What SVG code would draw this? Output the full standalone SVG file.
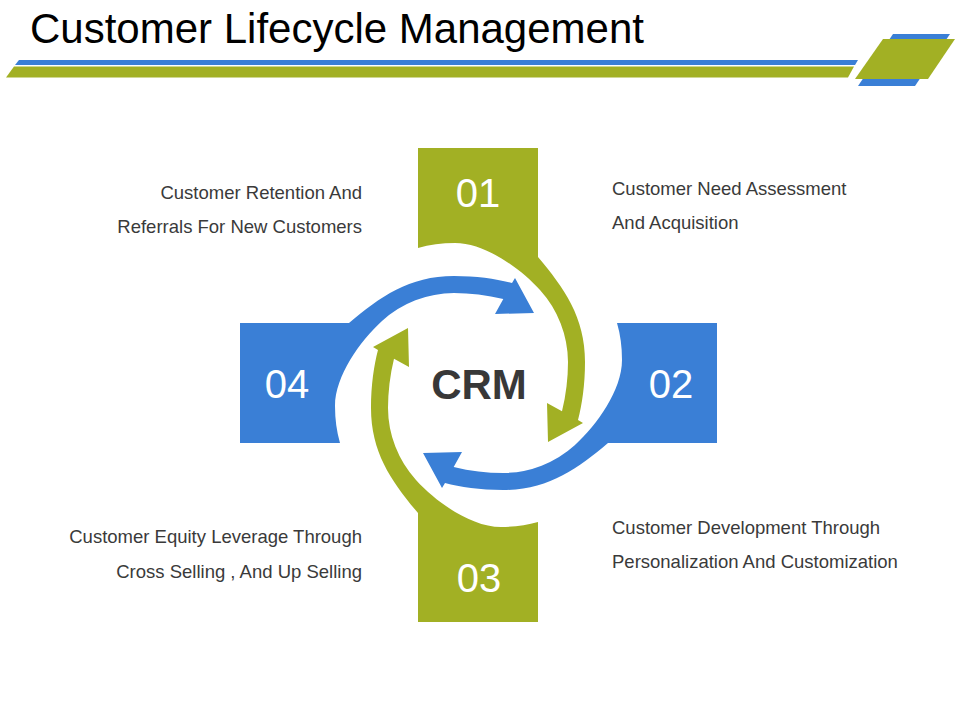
<svg xmlns="http://www.w3.org/2000/svg" xmlns:xlink="http://www.w3.org/1999/xlink" width="960" height="720" viewBox="0 0 960 720">
<style>
.green{fill:#A2B024}
.blue{fill:#3A7FD6}
.num{font-family:"Liberation Sans",Arial,sans-serif;font-size:40px;fill:#ffffff;text-anchor:middle}
.lbl{font-family:"Liberation Sans",Arial,sans-serif;font-size:18.5px;fill:#3a3a3a}
.r{text-anchor:end}
.title{font-family:"Liberation Sans",Arial,sans-serif;font-size:42px;fill:#000000}
.crm{font-family:"Liberation Sans",Arial,sans-serif;font-size:42px;font-weight:bold;fill:#383838;text-anchor:middle}
</style>
<defs>
<path id="piece" d="M418,148 H538 V257 C564,288 585,317 585,362 C585,385 582,405 578,420 L583,423 L548,442 L547,403 L562,411.3 C566,395 568,378 568,362 A108,108 0 0 0 540,290 C520,268 485,243 455,243 Q435,243 418,248 Z"/>
</defs>
<rect width="960" height="720" fill="#ffffff"/>
<g id="header">
<text class="title" x="30" y="43">Customer Lifecycle Management</text>
<polygon class="blue" points="19,60 858,60 855,65 15,65"/>
<polygon class="green" points="14,66.5 854,66.5 848,77.5 6,77.5"/>
<polygon class="blue" points="893,34 950,34 915,86 858,86"/>
<polygon class="green" points="883,39 955,39 928,79 855,79"/>
</g>
<g id="connectors"/>
<g id="node-01">
<use xlink:href="#piece" href="#piece" class="green"/>
<text class="num" x="478" y="207">01</text>
</g>
<g id="node-02">
<use xlink:href="#piece" href="#piece" class="blue" transform="translate(2,0) rotate(90 479 384)"/>
<text class="num" x="671" y="398">02</text>
</g>
<g id="node-03">
<use xlink:href="#piece" href="#piece" class="green" transform="translate(-2,2) rotate(180 479 384)"/>
<text class="num" x="479" y="592">03</text>
</g>
<g id="node-04">
<use xlink:href="#piece" href="#piece" class="blue" transform="translate(-3,-2) rotate(-90 479 384)"/>
<text class="num" x="287" y="398">04</text>
</g>
<g id="center">
<text class="crm" x="479" y="399">CRM</text>
</g>
<g id="labels">
<text class="lbl r" x="362" y="199">Customer Retention And</text>
<text class="lbl r" x="362" y="233">Referrals For New Customers</text>
<text class="lbl" x="612" y="195">Customer Need Assessment</text>
<text class="lbl" x="612" y="229">And Acquisition</text>
<text class="lbl" x="612" y="534">Customer Development Through</text>
<text class="lbl" x="612" y="568">Personalization And Customization</text>
<text class="lbl r" x="362" y="543">Customer Equity Leverage Through</text>
<text class="lbl r" x="362" y="578">Cross Selling , And Up Selling</text>
</g>
</svg>
